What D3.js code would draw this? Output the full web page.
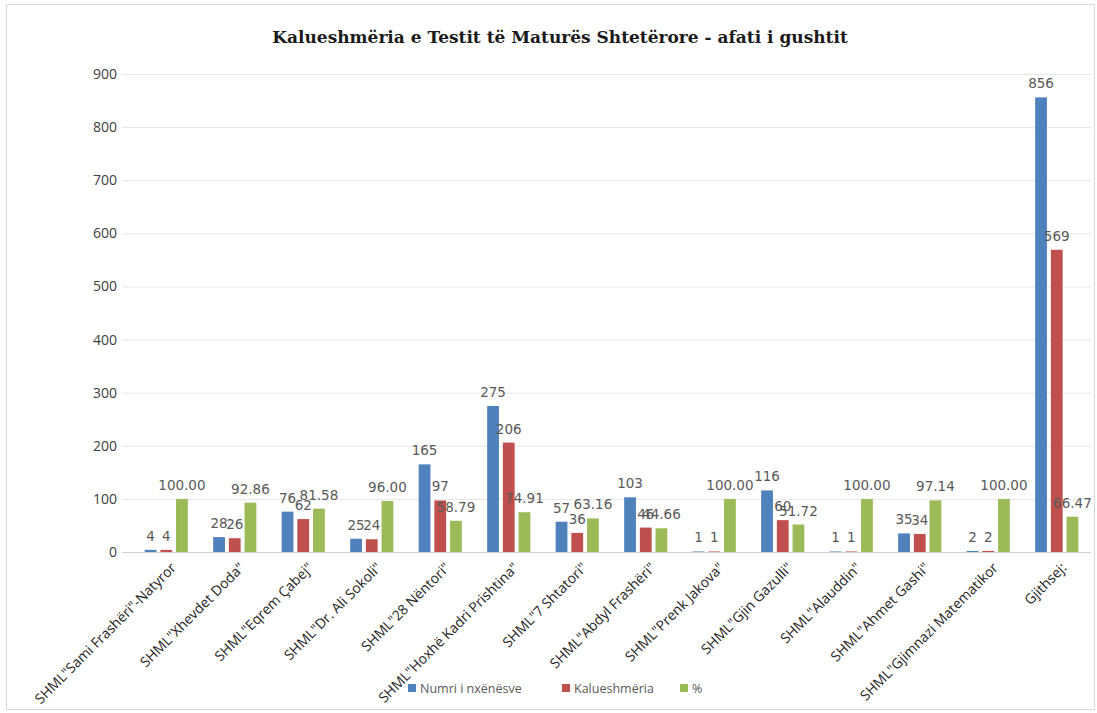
<!DOCTYPE html>
<html><head><meta charset="utf-8">
<script src="https://cdn.jsdelivr.net/npm/d3@7"></script>
<style>body{margin:0;background:#fff;}</style>
</head><body>
<svg id="c" width="1097" height="713"></svg>
<script>
const categories = ['SHML"Sami Frashëri"-Natyror','SHML"Xhevdet Doda"','SHML"Eqrem Çabej"','SHML"Dr. Ali Sokoli"','SHML"28 Nëntori"','SHML"Hoxhë Kadri Prishtina"','SHML"7 Shtatori"','SHML"Abdyl Frashëri"','SHML"Prenk Jakova"','SHML"Gjin Gazulli"','SHML"Alauddin"','SHML"Ahmet Gashi"','SHML"Gjimnazi Matematikor','Gjithsej:'];
const numri = [4,28,76,25,165,275,57,103,1,116,1,35,2,856];
const kalueshmeria = [4,26,62,24,97,206,36,46,1,60,1,34,2,569];
const perqindja = [100.00,92.86,81.58,96.00,58.79,74.91,63.16,44.66,100.00,51.72,100.00,97.14,100.00,66.47];
const seriesNames = ["Numri i nxënësve","Kalueshmëria","%"];
const yTicks = [0,100,200,300,400,500,600,700,800,900];
const colors = ["#4f81bd","#c0504d","#9bbb59"];

const svg = d3.select("#c");
svg.append("rect").attr("x",6.5).attr("y",4.5).attr("width",1088).attr("height",705)
  .attr("fill","#fff").attr("stroke","#d9d9d9");

const m = {l:132, r:1091, t:74, b:552};
const x = d3.scaleBand().domain(categories).range([m.l,m.r]).paddingInner(0.37).paddingOuter(0.185);
const xs = d3.scaleBand().domain([0,1,2]).range([0,x.bandwidth()]).paddingInner(0.25);
const y = d3.scaleLinear().domain([0,900]).range([m.b,m.t]);

// gridlines
svg.append("g").selectAll("line").data(yTicks).join("line")
  .attr("x1",m.l-10).attr("x2",m.r).attr("y1",d=>y(d)+0.5).attr("y2",d=>y(d)+0.5)
  .attr("stroke",d=>d===0?"#d0d0d0":"#e6e6e6");

// y axis labels
const yAxis = d3.axisLeft(y).tickValues(yTicks).tickSize(0).tickPadding(0);
const gy = svg.append("g").attr("transform",`translate(${m.l-15},0)`).call(yAxis);
gy.select(".domain").remove();
gy.selectAll("text").attr("font-family","'Open Sans',sans-serif").attr("font-size",14).attr("fill","#404040");

// title
svg.append("text").attr("x",560).attr("y",43).attr("text-anchor","middle")
  .attr("font-family","'DejaVu Serif',serif").attr("font-weight","bold").attr("font-size",17)
  .attr("fill","#1a1a1a").text("Kalueshmëria e Testit të Maturës Shtetërore - afati i gushtit");

const data = [numri,kalueshmeria,perqindja];
data.forEach((arr,si)=>{
  const g = svg.append("g");
  g.selectAll("rect").data(arr).join("rect")
    .attr("x",(d,i)=>x(categories[i])+xs(si))
    .attr("width",xs.bandwidth())
    .attr("y",d=>y(d)).attr("height",d=>y(0)-y(d))
    .attr("fill",colors[si]);
  g.selectAll("text").data(arr).join("text")
    .attr("x",(d,i)=>x(categories[i])+xs(si)+xs.bandwidth()/2)
    .attr("y",d=>y(d)-9)
    .attr("text-anchor","middle")
    .attr("font-family","'DejaVu Sans',sans-serif").attr("font-size",13.5).attr("fill","#595959")
    .text(d=> si===2 ? d.toFixed(2) : d3.format("d")(d));
});

// x labels
const xg = svg.append("g");
categories.forEach((c,i)=>{
  const cx = x(c)+x.bandwidth()/2 + 8;
  xg.append("text").attr("transform",`translate(${cx},${m.b+14}) rotate(-45)`)
    .attr("text-anchor","end").attr("dominant-baseline","middle")
    .attr("font-family","'Open Sans',sans-serif").attr("font-size",14).attr("fill","#262626")
    .text(c);
});

// legend
const legX = [408,562,680];
seriesNames.forEach((n,i)=>{
  svg.append("rect").attr("x",legX[i]).attr("y",684).attr("width",8).attr("height",8).attr("fill",colors[i]);
  svg.append("text").attr("x",legX[i]+12).attr("y",692.5).attr("font-family","'Open Sans',sans-serif")
    .attr("font-size",12.5).attr("fill","#595959").text(n);
});
</script>
</body></html>
